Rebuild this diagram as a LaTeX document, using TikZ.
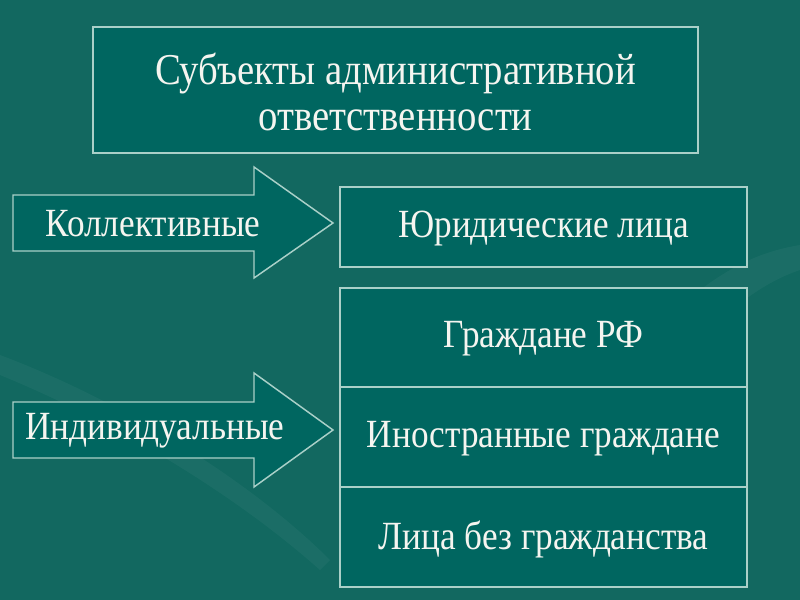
\documentclass[tikz,border=0pt]{standalone}
\usepackage{fontspec}
\setmainfont{Liberation Serif}
\newfontfamily\slidefont[FakeStretch=0.88]{Liberation Serif}
\definecolor{bgteal}{RGB}{18,104,96}
\definecolor{boxteal}{RGB}{0,102,96}
\definecolor{edgecol}{RGB}{170,208,200}
\definecolor{txtcol}{RGB}{245,245,240}
\begin{document}
\begin{tikzpicture}[x=0.75pt,y=-0.75pt,
  frame/.style={draw=edgecol,line width=1.1pt,fill=boxteal},
  lbl/.style={text=txtcol,font=\slidefont\fontsize{30}{34}\selectfont,align=center,inner sep=0pt},
  titlelbl/.style={lbl,font=\slidefont\fontsize{33}{35}\selectfont},
  arrowshape/.style={draw=edgecol,line width=1.1pt,fill=boxteal,line join=miter}]
\fill[bgteal] (0,0) rectangle (800,600);
\useasboundingbox (0,0) rectangle (800,600);
% faint decorative swooshes
\fill[white,opacity=0.04] (0,355) .. controls (120,400) and (250,480) .. (330,560) -- (320,570) .. controls (230,490) and (110,420) .. (0,375) -- cycle;
\fill[white,opacity=0.04] (700,290) .. controls (740,260) and (770,250) .. (800,245) -- (800,270) .. controls (770,280) and (740,300) .. (710,330) -- cycle;
% title
\draw[frame] (93,27) rectangle (698,153);
\node[titlelbl] (title) at (395.5,92) {Субъекты административной\\ответственности};
% arrows
\draw[arrowshape] (13,195) -- (254,195) -- (254,167) -- (333,223) -- (254,278) -- (254,251) -- (13,251) -- cycle;
\node[lbl] (koll) at (153,224) {Коллективные};
\draw[arrowshape] (13,402) -- (254,402) -- (254,373) -- (333,430) -- (254,487) -- (254,458) -- (13,458) -- cycle;
\node[lbl] (indiv) at (155,431) {Индивидуальные};
% right boxes
\draw[frame] (340,187) rectangle (747,267);
\node[lbl] (yur) at (543.5,229) {Юридические лица};
\draw[frame] (340,288) rectangle (747,587);
\draw[edgecol,line width=1.1pt] (340,387) -- (747,387);
\draw[edgecol,line width=1.1pt] (340,487) -- (747,487);
\node[lbl] (grazh) at (543.5,339) {Граждане РФ};
\node[lbl] (inostr) at (543.5,439) {Иностранные граждане};
\node[lbl] (lbg) at (543.5,539) {Лица без гражданства};
\end{tikzpicture}
\end{document}
